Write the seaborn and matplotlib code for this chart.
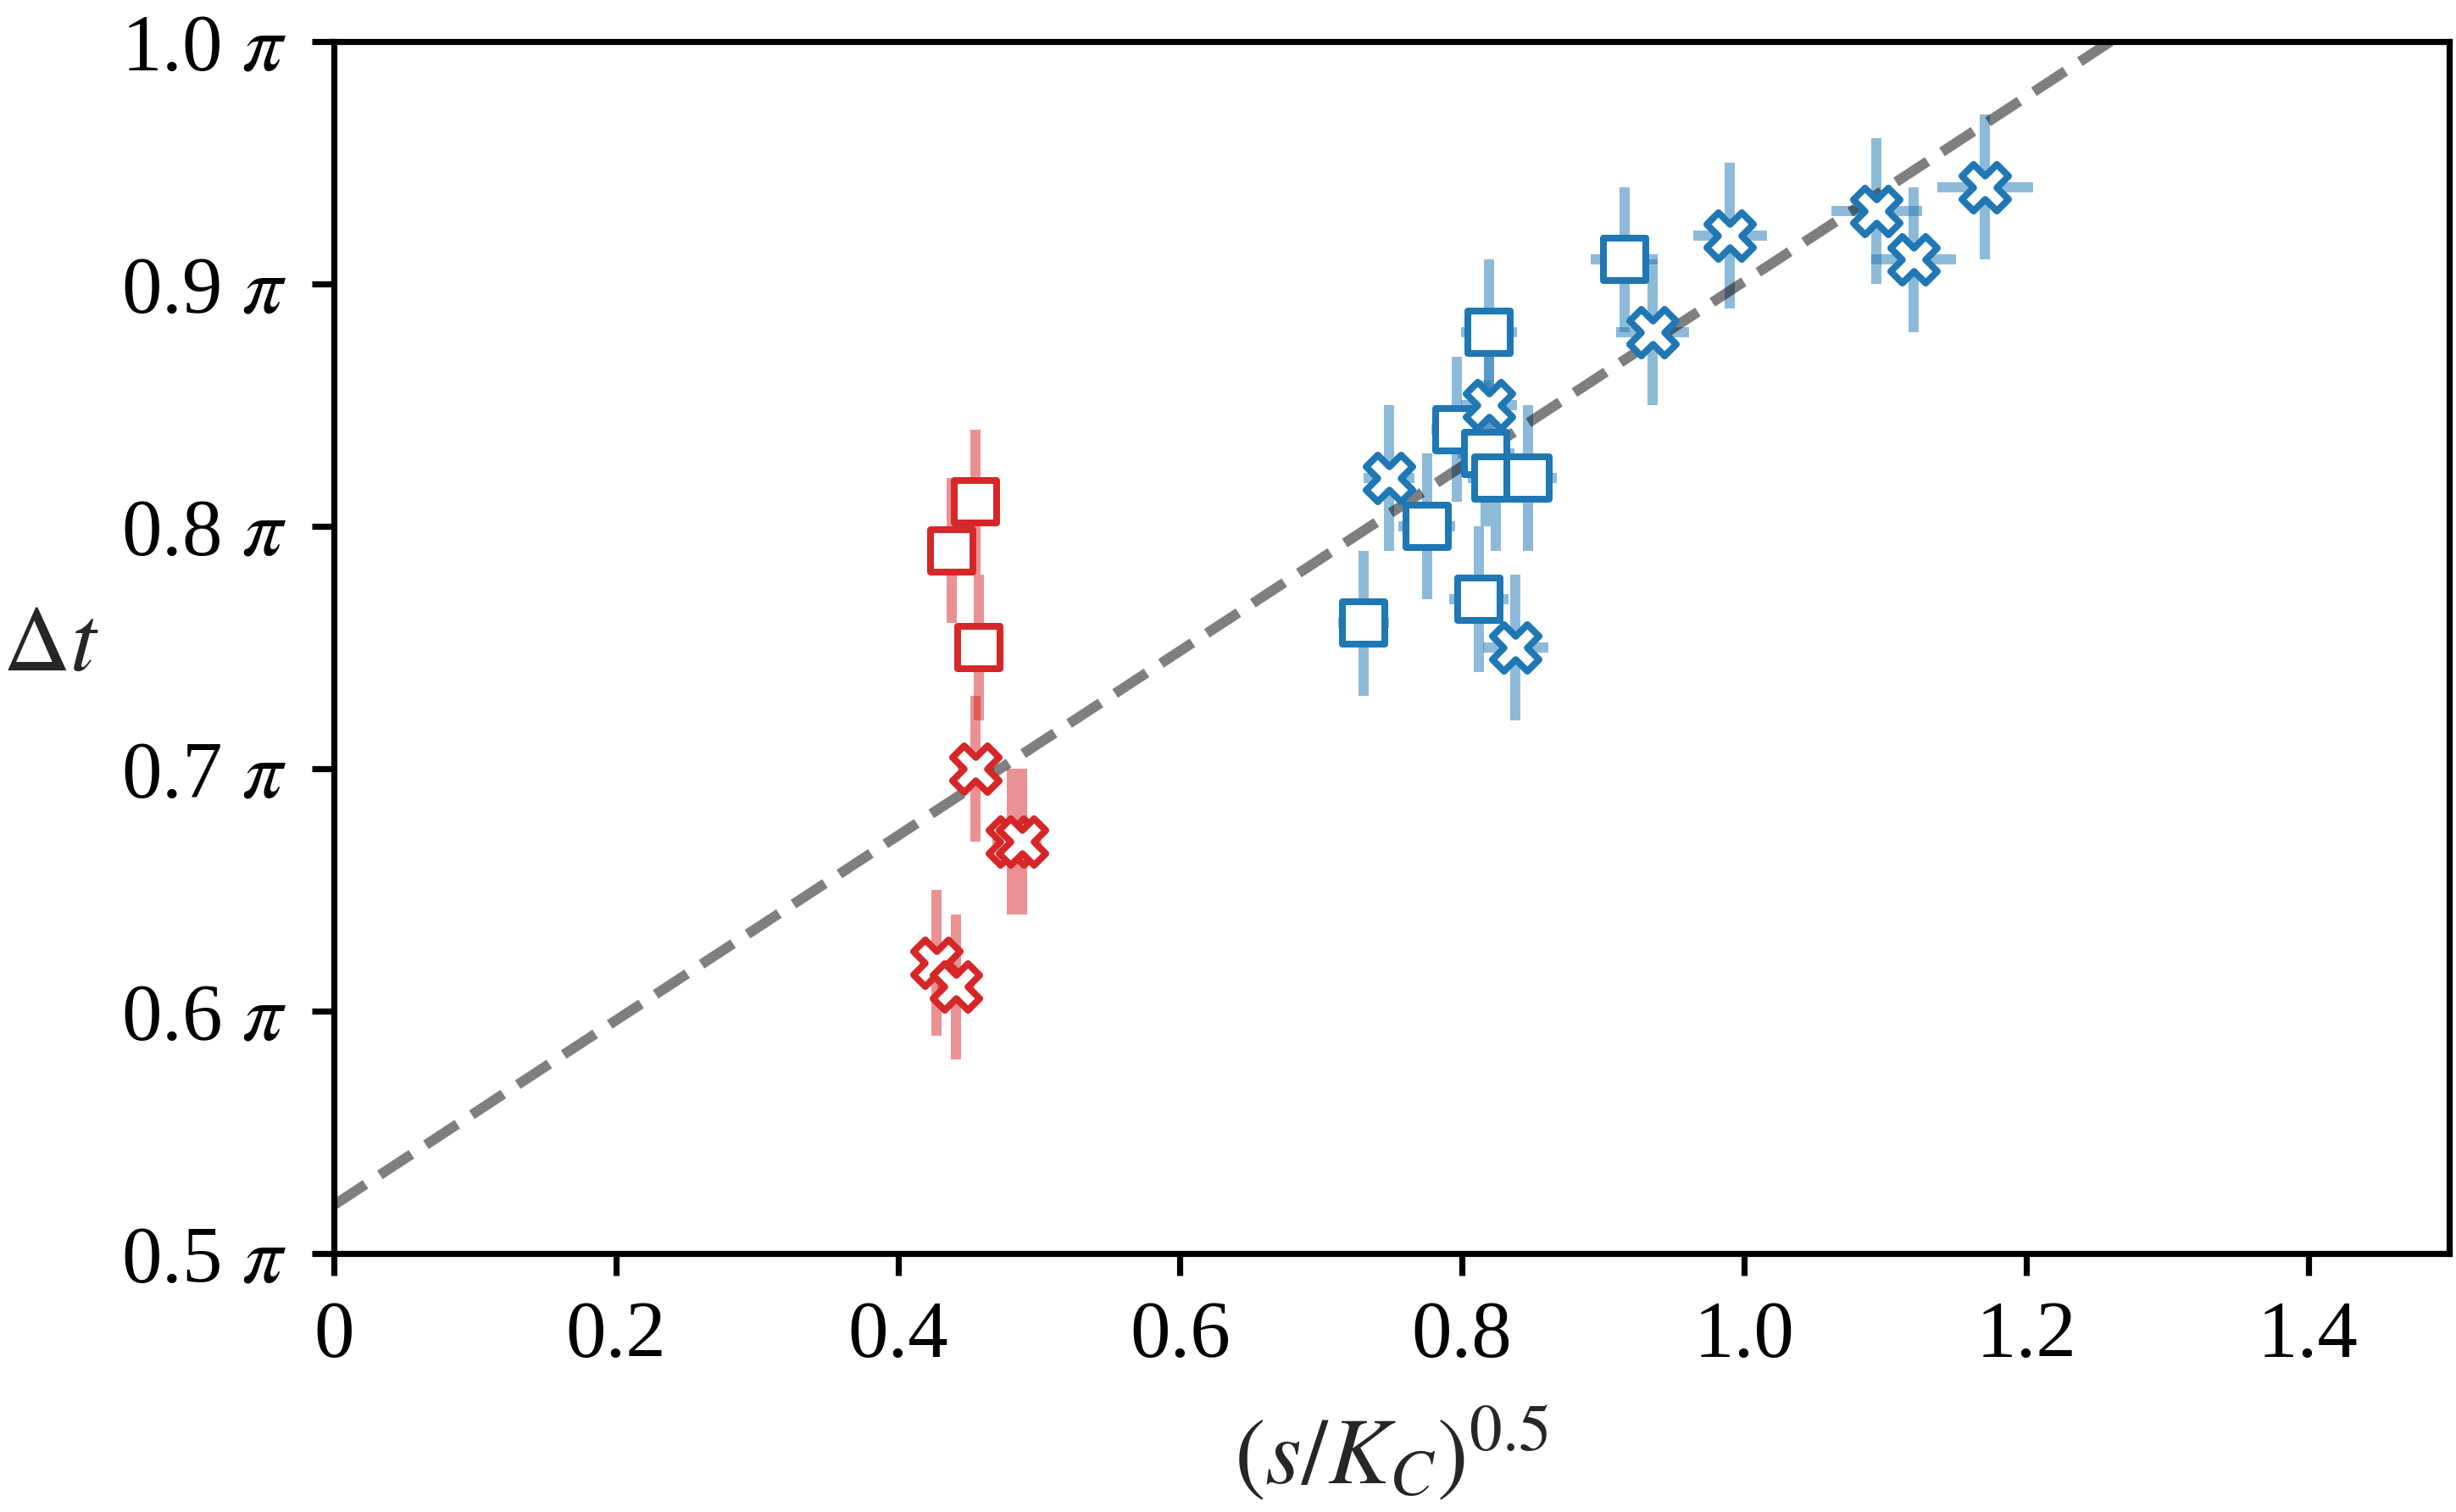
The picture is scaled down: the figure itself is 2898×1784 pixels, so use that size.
import numpy as np
import pandas as pd
import matplotlib
matplotlib.use("Agg")
import matplotlib.pyplot as plt
import seaborn as sns

# ---- data (y in units of pi) ----
red_sq_x = [0.438, 0.455, 0.457]
red_sq_y = [0.79, 0.81, 0.75]
red_sq_xerr = [0.013, 0.013, 0.013]
red_sq_yerr = [0.03, 0.03, 0.03]

red_x_x = [0.455, 0.481, 0.488, 0.427, 0.441]
red_x_y = [0.70, 0.67, 0.67, 0.62, 0.61]
red_x_xerr = [0.013, 0.014, 0.014, 0.012, 0.013]
red_x_yerr = [0.03, 0.03, 0.03, 0.03, 0.03]

blue_sq_x = [0.730, 0.775, 0.812, 0.796, 0.817, 0.824, 0.847, 0.819, 0.915]
blue_sq_y = [0.76, 0.80, 0.77, 0.84, 0.83, 0.82, 0.82, 0.88, 0.91]
blue_sq_xerr = [0.018, 0.02, 0.021, 0.018, 0.02, 0.02, 0.02, 0.02, 0.024]
blue_sq_yerr = [0.03] * 9

blue_x_x = [0.748, 0.819, 0.838, 0.935, 0.990, 1.094, 1.120, 1.171]
blue_x_y = [0.82, 0.85, 0.75, 0.88, 0.92, 0.93, 0.91, 0.94]
blue_x_xerr = [0.018, 0.02, 0.023, 0.026, 0.026, 0.032, 0.03, 0.034]
blue_x_yerr = [0.03] * 8

fit_intercept = 0.52
fit_slope = 0.381

x_ticks = [0, 0.2, 0.4, 0.6, 0.8, 1.0, 1.2, 1.4]
x_ticklabels = ["0", "0.2", "0.4", "0.6", "0.8", "1.0", "1.2", "1.4"]
y_ticks = [0.5, 0.6, 0.7, 0.8, 0.9, 1.0]
y_ticklabels = [f"{t:.1f} $\\pi$" for t in y_ticks]

RED = "#d62728"
BLUE = "#1f77b4"

sns.set_style("ticks")
plt.rcParams["font.family"] = ["Liberation Serif", "DejaVu Serif"]
plt.rcParams["mathtext.fontset"] = "stix"

DPI = 360
fig = plt.figure(figsize=(2898 / DPI, 1784 / DPI), dpi=DPI)
ax = fig.add_axes([0.136, 0.171, 0.9972 - 0.136, 0.9725 - 0.171])

groups = [
    (red_sq_x, red_sq_y, red_sq_xerr, red_sq_yerr, RED, "s"),
    (red_x_x, red_x_y, red_x_xerr, red_x_yerr, RED, "X"),
    (blue_sq_x, blue_sq_y, blue_sq_xerr, blue_sq_yerr, BLUE, "s"),
    (blue_x_x, blue_x_y, blue_x_xerr, blue_x_yerr, BLUE, "X"),
]
marker_area = {"s": 104, "X": 121}

for gx, gy, gxe, gye, c, m in groups:
    ax.errorbar(gx, gy, xerr=gxe, yerr=gye, fmt="none", ecolor=c,
                alpha=0.5, elinewidth=2.4, capsize=0, zorder=1)

ax.axline((0, fit_intercept), slope=fit_slope, color="k", alpha=0.5,
          ls=(0, (3.7, 1.7)), lw=2.4, zorder=2)

for gx, gy, gxe, gye, c, m in groups:
    df = pd.DataFrame({"x": gx, "y": gy})
    sns.scatterplot(data=df, x="x", y="y", marker=m, s=marker_area[m],
                    color="white", edgecolor=c, linewidth=1.6, ax=ax,
                    zorder=3, legend=False)

ax.set_xlim(0, 1.5)
ax.set_ylim(0.5, 1.0)
ax.set_xticks(x_ticks)
ax.set_xticklabels(x_ticklabels)
ax.set_yticks(y_ticks)
ax.set_yticklabels(y_ticklabels)
ax.tick_params(axis="both", labelsize=19, length=5.2, width=1.44, pad=6,
               color="k", labelcolor="k", direction="out")
for sp in ax.spines.values():
    sp.set_linewidth(1.44)
    sp.set_color("k")
    sp.set_visible(True)

ax.set_xlabel(r"$(s/K_C)^{0.5}$", fontsize=22, labelpad=7)
ax.set_ylabel(r"$\Delta t$", fontsize=22, rotation=0, ha="center", va="center")
ax.yaxis.set_label_coords(-0.134, 0.5)

fig.savefig("out.png", dpi=DPI, facecolor="white")
